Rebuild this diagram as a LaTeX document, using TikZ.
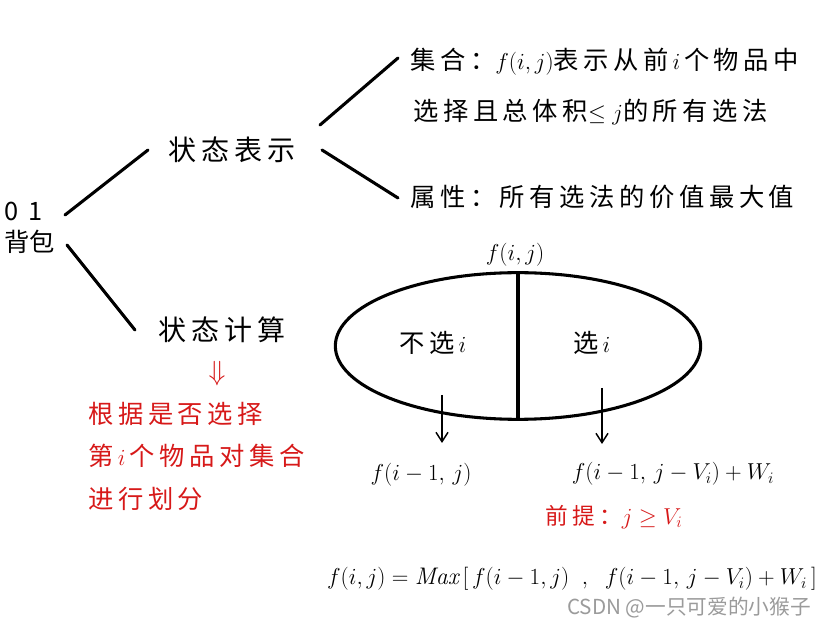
\documentclass[tikz,border=0pt]{standalone}
\usepackage{fontspec}
\newfontfamily\cjk[LetterSpace=18]{Noto Sans CJK SC}
\newfontfamily\wmfont{Noto Sans CJK SC}
\usetikzlibrary{shapes.geometric,arrows.meta}
\definecolor{hred}{RGB}{215,25,25}
\definecolor{wmgray}{RGB}{155,155,155}
\begin{document}
\begin{tikzpicture}[x=0.75pt,y=-0.75pt,
  txt/.style={font=\cjk\fontsize{19}{23}\selectfont, inner sep=0pt, anchor=center},
  bigtxt/.style={font=\cjk\fontsize{21}{25}\selectfont, inner sep=0pt},
  redtxt/.style={font=\cjk\fontsize{19}{23}\selectfont, inner sep=0pt, text=hred, anchor=west},
  mtxt/.style={font=\fontsize{18}{22}\selectfont, inner sep=0pt},
  branch/.style={line width=2.3pt, line cap=round},
  arr/.style={line width=1.1pt, -{Straight Barb[length=7pt,width=9pt]}},
]
\useasboundingbox (0,0) rectangle (819,627);
\fill[white] (0,0) rectangle (819,627);

% root
\node[font=\wmfont\fontsize{19}{23}\selectfont, inner sep=0pt, align=left, anchor=west] (root) at (4,228) {0\hspace{8pt}1\\背包};
\node[bigtxt] (s1) at (232,150) {状态表示};
\node[bigtxt] (s2) at (222,330) {状态计算};

\coordinate (r1) at (65,215);
\coordinate (r2) at (67,245);
\coordinate (s1e) at (148,150);
\coordinate (s2e) at (135,330);
\draw[branch] (r1) -- (s1e);
\draw[branch] (r2) -- (s2e);

% set / attribute
\node[txt, anchor=west] (setA) at (410,62) {集合：$f(i,j)$表示从前$\,i\,$个物品中};
\node[txt, anchor=west] (setB) at (413,112) {选择且总体积$\le j$的所有选法};
\node[txt, anchor=west] (attr) at (410,197) {属性：所有选法的价值最大值};

\coordinate (t1) at (320,125);
\coordinate (t2) at (322,150);
\coordinate (a1) at (398,58);
\coordinate (a2) at (398,198);
\draw[branch] (t1) -- (a1);
\draw[branch] (t2) -- (a2);

% red explanation
\node[font=\fontsize{22}{24}\selectfont, text=hred, inner sep=0pt] (dn) at (217,374) {$\Downarrow$};
\node[redtxt] (r1t) at (88,414) {根据是否选择};
\node[redtxt] (r2t) at (88,456) {第\,$i$\,个物品对集合};
\node[redtxt] (r3t) at (88,499) {进行划分};

% ellipse
\node[mtxt] (fij) at (515,255) {$f(i,j)$};
\node[draw, ellipse, line width=2.3pt, minimum width=274pt, minimum height=110pt, inner sep=0pt] (setE) at (518,346) {};
\draw[line width=2.3pt] (setE.north) -- (setE.south);
\node[txt] (nsel) at (433,343) {不选$\,i$};
\node[txt] (sel) at (592,343) {选$\,i$};

\node[mtxt] (fl) at (421,475) {$f(i-1,\,j)$};
\node[mtxt] (fr) at (673,474) {$f(i-1,\,j-V_i)+W_i$};
\node[font=\cjk\fontsize{17}{20}\selectfont, text=hred, inner sep=0pt] (pre) at (614,517) {前提：$j\ge V_i$};

\coordinate (la) at (442,395);
\coordinate (ra) at (602,388);
\draw[arr] (la) -- (la |- 0,443);
\draw[arr] (ra) -- (ra |- 0,444);

% bottom formula
\node[mtxt] (formula) at (572,579) {$f(i,j)=\mathit{Max}\,\bigl[\,f(i-1,j)\;\;,\;\;f(i-1,\,j-V_i)+W_i\,\bigr]$};
\node[font=\wmfont\fontsize{15.5}{18}\selectfont, text=wmgray, inner sep=0pt] (wm) at (689,608) {CSDN @一只可爱的小猴子};
\end{tikzpicture}
\end{document}
